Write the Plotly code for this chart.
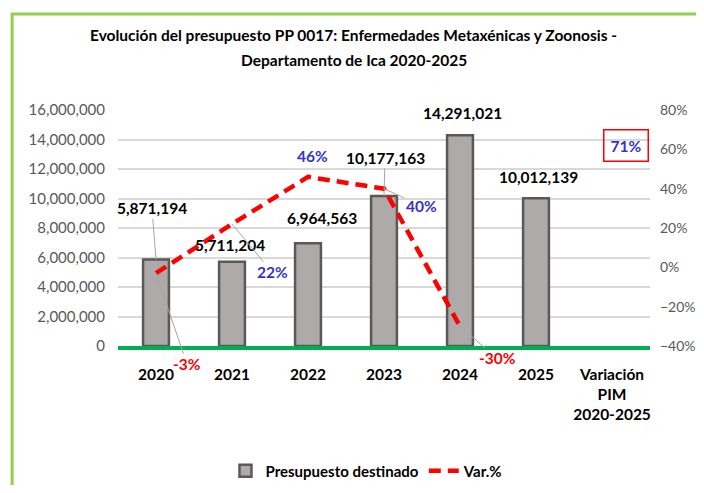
import plotly.graph_objects as go

# ---- data ----
years = ["2020", "2021", "2022", "2023", "2024", "2025"]
extra_cat = "Variación PIM 2020-2025"
categories = years + [extra_cat]
tick_labels = ["2020", "2021", "2022", "2023", "2024", "2025", "Variación<br>PIM<br>2020-2025"]
budget = [5871194, 5711204, 6964563, 10177163, 14291021, 10012139]
var_years = ["2020", "2021", "2022", "2023", "2024"]
var_pct = [-0.03, 0.22, 0.46, 0.40, -0.30]
pim_var = 0.71
left_ticks = [0, 2000000, 4000000, 6000000, 8000000, 10000000, 12000000, 14000000, 16000000]
right_ticks = [-0.4, -0.2, 0.0, 0.2, 0.4, 0.6, 0.8]

# ---- style ----
FONT = "Lato, 'Liberation Sans', sans-serif"
RED = "#FF0000"
BLUE = "#3333CC"
LEADER = "#A6A6A6"
bar_label_offsets = [(-4, -51, True), (-2, -17, False), (14, -25, False),
                     (1, -38, True), (2, -22, False), (2, -21, False)]
pct_label_offsets = [(31, 91, True), (40, 48, True), (4, -21, False),
                     (37, 17, True), (37, 32, True)]

fig = go.Figure()
fig.add_trace(go.Bar(
    x=years, y=budget, name="Presupuesto destinado",
    marker=dict(color="#AEAAAA", line=dict(color="#595959", width=2.5)),
    width=0.34,
))
fig.add_trace(go.Scatter(
    x=var_years, y=var_pct, name="Var.%", yaxis="y2", mode="lines",
    line=dict(color=RED, width=4.5, dash="12px,7px"),
))

annotations = []
for yr, v, (dx, dy, lead) in zip(years, budget, bar_label_offsets):
    a = dict(x=categories.index(yr), y=v, xref="x", yref="y", text="<b>{:,}</b>".format(v),
             font=dict(family=FONT, size=15.5, color="black"))
    if lead:
        a.update(showarrow=True, ax=dx, ay=dy, arrowhead=0, arrowwidth=1,
                 arrowcolor=LEADER, standoff=0)
    else:
        a.update(showarrow=False, xshift=dx, yshift=-dy)
    annotations.append(a)

for yr, p, (dx, dy, lead) in zip(var_years, var_pct, pct_label_offsets):
    col = RED if p < 0 else BLUE
    a = dict(x=categories.index(yr), y=p, xref="x", yref="y2", text="<b>{:.0f}%</b>".format(p * 100),
             font=dict(family=FONT, size=15.5, color=col))
    if lead:
        a.update(showarrow=True, ax=dx, ay=dy, arrowhead=0, arrowwidth=1,
                 arrowcolor=LEADER, standoff=0)
    else:
        a.update(showarrow=False, xshift=dx, yshift=-dy)
    annotations.append(a)

annotations.append(dict(
    x=categories.index(extra_cat), y=pim_var, xref="x", yref="y2", showarrow=False,
    text="<b>{:.0f}%</b>".format(pim_var * 100), xshift=14, yshift=-18,
    font=dict(family=FONT, size=15.5, color=BLUE),
    bordercolor=RED, borderwidth=1.5, borderpad=6,
))

title_lines = ["Evolución del presupuesto PP 0017: Enfermedades Metaxénicas y Zoonosis -",
               "Departamento de Ica 2020-2025"]
for txt, yy in zip(title_lines, [1.318, 1.212]):
    annotations.append(dict(x=0.4436, y=yy, xref="paper", yref="paper", showarrow=False,
                            xanchor="center", yanchor="middle",
                            text="<b>" + txt + "</b>",
                            font=dict(family=FONT, size=15.5, color="black")))

# the page body has an 8px default margin, so the figure is offset by 8px
fig.update_layout(
    width=696, height=477,
    margin=dict(l=110, r=54, t=102, b=139, autoexpand=False),
    paper_bgcolor="white", plot_bgcolor="white",
    font=dict(family=FONT, size=15, color="#595959"),
    showlegend=True,
    legend=dict(orientation="h", x=0.468, xanchor="center", y=-0.53, yanchor="middle",
                font=dict(family=FONT, size=15, color="black", weight="bold"),
                traceorder="normal"),
    xaxis=dict(type="category", categoryorder="array", categoryarray=categories,
               range=[-0.5, 6.5], tickvals=categories, automargin=False,
               ticktext=["<b>" + t + "</b>" for t in tick_labels],
               tickfont=dict(family=FONT, size=15.5, color="black"),
               showline=True, linecolor="#00B050", linewidth=4, showgrid=False,
               ticks="", ticklabelstandoff=11),
    yaxis=dict(range=[0, 16000000], tickvals=left_ticks, tickformat=",d", automargin=False,
               showgrid=True, gridcolor="#D9D9D9", gridwidth=1.5, zeroline=False,
               ticks="", ticklabelstandoff=12,
               tickfont=dict(family=FONT, size=15, color="#595959")),
    yaxis2=dict(range=[-0.4, 0.8], tickvals=right_ticks, tickformat=".0%", automargin=False,
                overlaying="y", side="right", showgrid=False, zeroline=False,
                ticks="", ticklabelstandoff=9,
                tickfont=dict(family=FONT, size=14, color="#595959")),
    annotations=annotations,
    shapes=[dict(type="rect", xref="paper", yref="paper",
                 x0=-0.199, x1=1.15, y0=-0.7, y1=1.4068,
                 line=dict(color="#92D050", width=3), fillcolor="rgba(0,0,0,0)", layer="above")],
)

fig.write_html("out.html")
